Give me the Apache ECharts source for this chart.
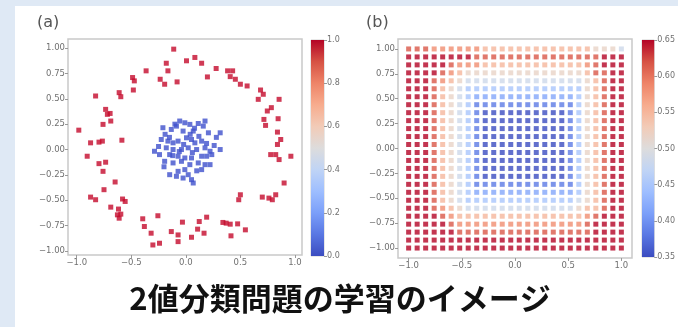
<!DOCTYPE html>
<html>
<head>
<meta charset="utf-8">
<script src="https://cdn.jsdelivr.net/npm/echarts@6/dist/echarts.min.js"></script>
<style>
  html, body { margin: 0; padding: 0; background: #dfe9f5; }
  #main { width: 678px; height: 327px; }
</style>
</head>
<body>
<div id="main"></div>
<script>
// (a) class 1 points, outer ring
const redPoints = [
  [-0.111, 0.990], [-0.179, 0.851], [-0.164, 0.776], [0.006, 0.875], [0.083, 0.908],
  [0.145, 0.851], [0.278, 0.799], [0.198, 0.716], [0.383, 0.776], [0.429, 0.776],
  [0.407, 0.719], [0.454, 0.693], [0.500, 0.644], [0.562, 0.627], [-0.364, 0.776],
  [-0.488, 0.710], [-0.472, 0.677], [-0.481, 0.587], [-0.235, 0.693], [-0.194, 0.644],
  [-0.080, 0.667], [0.685, 0.587], [0.710, 0.545], [0.664, 0.495], [0.855, 0.495],
  [0.784, 0.413], [0.747, 0.380], [0.716, 0.297], [0.731, 0.238], [0.846, 0.304],
  [0.840, 0.172], [0.870, 0.099], [0.840, 0.050], [0.855, -0.099], [0.778, -0.050],
  [0.824, -0.050], [0.963, -0.066], [0.901, -0.330], [0.762, -0.479], [0.793, -0.495],
  [0.824, -0.446], [0.701, -0.469], [0.500, -0.446], [0.485, -0.495], [-0.611, 0.561],
  [-0.596, 0.521], [-0.827, 0.528], [-0.735, 0.396], [-0.719, 0.347], [-0.694, 0.356],
  [-0.688, 0.281], [-0.759, 0.248], [-0.981, 0.191], [-0.873, 0.066], [-0.796, 0.073],
  [-0.765, 0.083], [-0.586, 0.092], [-0.904, -0.066], [-0.796, -0.139], [-0.735, -0.125],
  [-0.759, -0.215], [-0.648, -0.320], [-0.750, -0.396], [-0.873, -0.469], [-0.827, -0.495],
  [-0.580, -0.488], [-0.556, -0.512], [-0.688, -0.568], [-0.617, -0.587], [-0.627, -0.644],
  [-0.596, -0.637], [-0.611, -0.677], [-0.395, -0.683], [-0.380, -0.759], [-0.256, -0.653],
  [-0.031, -0.716], [0.123, -0.710], [0.191, -0.667], [0.108, -0.785], [0.340, -0.719],
  [0.370, -0.726], [0.407, -0.736], [0.475, -0.733], [0.546, -0.792], [0.414, -0.851],
  [-0.133, -0.809], [-0.071, -0.842], [0.052, -0.865], [-0.318, -0.825], [-0.071, -0.908],
  [-0.302, -0.941], [-0.241, -0.924], [0.167, -0.825]
];

// (a) class 0 points, inner cluster
const bluePoints = [
  [-0.056, 0.281], [-0.009, 0.264], [-0.086, 0.231], [0.037, 0.248], [0.114, 0.257],
  [0.176, 0.281], [0.160, 0.231], [-0.210, 0.215], [-0.133, 0.198], [-0.025, 0.182],
  [0.068, 0.182], [0.207, 0.165], [0.315, 0.165], [-0.225, 0.099], [-0.164, 0.083],
  [-0.117, 0.066], [-0.071, 0.083], [0.006, 0.116], [0.052, 0.099], [0.083, 0.066],
  [0.145, 0.083], [-0.179, 0.017], [-0.117, 0.000], [-0.040, 0.000], [0.022, 0.017],
  [0.099, 0.000], [0.176, 0.017], [0.222, -0.017], [0.315, 0.000], [-0.287, -0.017],
  [-0.241, -0.050], [-0.148, -0.050], [-0.071, -0.066], [-0.009, -0.083], [0.052, -0.083],
  [0.145, -0.066], [0.191, -0.066], [0.238, -0.050], [-0.194, -0.116], [-0.117, -0.132],
  [-0.040, -0.116], [0.037, -0.149], [0.114, -0.132], [0.176, -0.149], [0.222, -0.149],
  [-0.148, -0.248], [-0.071, -0.215], [-0.009, -0.198], [0.022, -0.248], [0.052, -0.297],
  [0.068, -0.330], [-0.025, -0.281], [0.145, -0.198], [-0.086, -0.264],
  [-0.100, 0.250], [0.080, 0.210], [-0.150, 0.120], [0.120, 0.130], [-0.020, 0.050],
  [0.190, 0.060], [-0.250, 0.030], [0.260, 0.040], [-0.060, -0.020], [0.060, -0.030],
  [-0.200, -0.170], [0.100, -0.210], [-0.120, -0.060], [0.040, 0.150], [0.280, 0.120],
  [-0.190, 0.150]
];

// (b) grid coordinates
const gridCoords = [-1.00, -0.92, -0.84, -0.76, -0.68, -0.60, -0.52, -0.44, -0.36, -0.28,
  -0.20, -0.12, -0.04, 0.04, 0.12, 0.20, 0.28, 0.36, 0.44, 0.52, 0.60, 0.68, 0.76, 0.84, 0.92, 1.00];

// (b) read colour levels, 0 = 0.35 ... 9 = 0.65, rows top (y=1) to bottom (y=-1)
const gridLevels = [
  '88877777 76666666666 6665554',
  '99999999 88888888888 8888999',
  '99999877 76666666666 6678999',
  '99998765 55555555555 5568899',
  '99987654 44444444444 4456899',
  '99986543 33333333333 3356899',
  '99986543 22222222222 2356899',
  '99986543 11111111111 1356899',
  '99986543 10000000000 1356899',
  '99986543 10000000000 1356899',
  '99986543 10000000000 1356899',
  '99986543 10000000000 1356899',
  '99986543 10000000000 1356899',
  '99986543 10000000000 1356899',
  '99986543 10000000000 1356899',
  '99986543 10000000000 1356899',
  '99986543 10000000000 1356899',
  '99986543 11111111111 1356899',
  '99986543 22222222222 2356899',
  '99986543 33333333333 3456899',
  '99987654 44444444444 4566899',
  '99998766 66666666666 6678999',
  '99999877 77777777777 7789999',
  '99999988 88888888888 8889999',
  '99999999 99999999999 9999999',
  '99999999 99999999999 9999999'
];

const axisTicksA = [-1, -0.5, 0, 0.5, 1];
const axisTicksAY = [-1, -0.75, -0.5, -0.25, 0, 0.25, 0.5, 0.75, 1];
const coolwarm = ['#3b4cc0', '#5977e3', '#7b9ff9', '#9ebeff', '#c0d4f5', '#dddcdc',
  '#f2cbb7', '#f7ac8e', '#ee8468', '#d65244', '#b40426'];

const gridData = [];
gridLevels.forEach((row, r) => {
  const cells = row.replace(/ /g, '');
  for (let c = 0; c < cells.length; c++) {
    const v = 0.35 + Number(cells[c]) / 9 * 0.30;
    gridData.push([gridCoords[c], gridCoords[25 - r], v]);
  }
});

const fmt = (d) => (v) => (v < 0 ? '\u2212' : '') + Math.abs(v).toFixed(d);
const labelStyle = { fontSize: 8.5, color: '#707070', fontFamily: 'DejaVu Sans', margin: 3 };
const cbarLabel = { fontSize: 8, color: '#707070', fontFamily: 'DejaVu Sans', margin: 3 };
const tickStyle = { show: true, length: 3, lineStyle: { color: '#999', width: 1 } };

function plotX(idx, min, max) {
  return {
    type: 'value', gridIndex: idx, min: min, max: max,
    axisLine: { show: false, onZero: false }, splitLine: { show: false },
    axisTick: Object.assign({ customValues: axisTicksA }, tickStyle),
    axisLabel: Object.assign({ customValues: axisTicksA, formatter: fmt(1) }, labelStyle)
  };
}
function plotY(idx, min, max) {
  return {
    type: 'value', gridIndex: idx, min: min, max: max,
    axisLine: { show: false, onZero: false }, splitLine: { show: false },
    axisTick: Object.assign({ customValues: axisTicksAY }, tickStyle),
    axisLabel: Object.assign({ customValues: axisTicksAY, formatter: fmt(2) }, labelStyle)
  };
}
function barGradient() {
  return new echarts.graphic.LinearGradient(0, 0, 0, 1,
    coolwarm.slice().reverse().map((c, i) => ({ offset: i / 10, color: c })));
}

const chart = echarts.init(document.getElementById('main'));
chart.setOption({
  animation: false,
  graphic: [
    { type: 'rect', z: -10, shape: { x: 15, y: 6, width: 663, height: 321 }, style: { fill: '#ffffff' } },
    { type: 'text', left: 37, top: 15, style: { text: '(a)', fontSize: 16, fill: '#555', fontFamily: 'DejaVu Sans' } },
    { type: 'text', left: 366, top: 15, style: { text: '(b)', fontSize: 16, fill: '#555', fontFamily: 'DejaVu Sans' } },
    { type: 'text', x: 340, y: 298, style: { text: '2値分類問題の学習のイメージ', fontSize: 31, fontWeight: 'bold',
      fill: '#111', fontFamily: 'Noto Sans CJK JP', align: 'center', verticalAlign: 'middle' } }
  ],
  grid: [
    { left: 68, top: 39, width: 234, height: 216, show: true, borderColor: '#c9c9c9', borderWidth: 1.5, backgroundColor: '#fff' },
    { left: 311, top: 40, width: 13, height: 216, show: true, borderColor: '#d0d0d0', borderWidth: 1 },
    { left: 398, top: 39, width: 234, height: 219, show: true, borderColor: '#c9c9c9', borderWidth: 1.5, backgroundColor: '#fff' },
    { left: 642, top: 40, width: 13, height: 217, show: true, borderColor: '#d0d0d0', borderWidth: 1 }
  ],
  xAxis: [
    plotX(0, -1.08, 1.065),
    { type: 'category', gridIndex: 1, data: [''], show: false },
    plotX(2, -1.1, 1.1),
    { type: 'category', gridIndex: 3, data: [''], show: false }
  ],
  yAxis: [
    plotY(0, -1.04, 1.09),
    { type: 'value', gridIndex: 1, min: 0, max: 1, interval: 0.2, position: 'right',
      axisLine: { show: false }, splitLine: { show: false }, axisTick: tickStyle,
      axisLabel: Object.assign({ formatter: fmt(1) }, cbarLabel) },
    plotY(2, -1.1, 1.1),
    { type: 'value', gridIndex: 3, min: 0.35, max: 0.65, interval: 0.05, position: 'right',
      axisLine: { show: false }, splitLine: { show: false }, axisTick: tickStyle,
      axisLabel: Object.assign({ formatter: fmt(2) }, cbarLabel) },
    { type: 'value', gridIndex: 3, min: 0, max: 1, show: false, position: 'left' }
  ],
  visualMap: [{
    show: false, seriesIndex: 3, dimension: 2, min: 0.35, max: 0.65,
    inRange: { color: coolwarm }
  }],
  series: [
    { type: 'scatter', xAxisIndex: 0, yAxisIndex: 0, symbol: 'rect', symbolSize: 5,
      itemStyle: { color: '#c40a2c' }, data: redPoints },
    { type: 'scatter', xAxisIndex: 0, yAxisIndex: 0, symbol: 'rect', symbolSize: 5,
      itemStyle: { color: '#3e50cc' }, data: bluePoints },
    { type: 'bar', xAxisIndex: 1, yAxisIndex: 1, barWidth: '100%', data: [1],
      itemStyle: { color: barGradient() } },
    { type: 'scatter', xAxisIndex: 2, yAxisIndex: 2, symbol: 'rect', symbolSize: 5, data: gridData },
    { type: 'bar', xAxisIndex: 3, yAxisIndex: 4, barWidth: '100%', data: [1],
      itemStyle: { color: barGradient() } }
  ]
});
</script>
</body>
</html>
